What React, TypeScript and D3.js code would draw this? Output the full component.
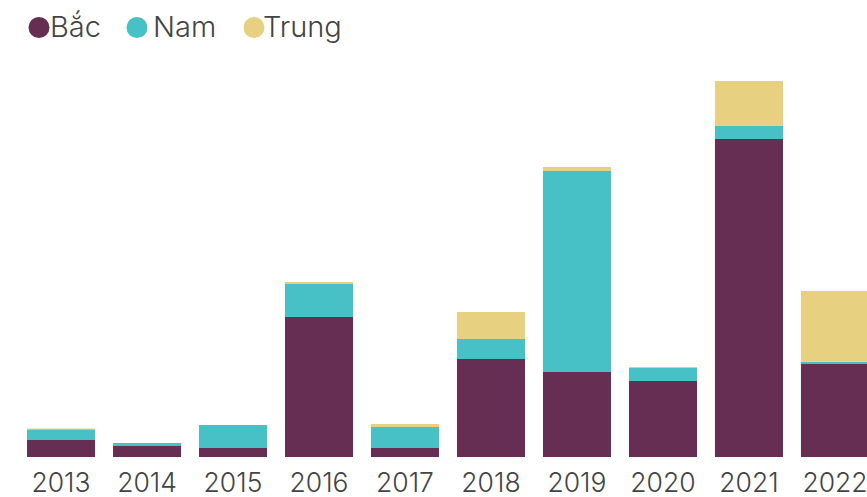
import React from 'react';
import * as d3 from 'd3';

const years = ['2013', '2014', '2015', '2016', '2017', '2018', '2019', '2020', '2021', '2022'];
const bac = [17, 11, 9, 140, 9, 98, 85, 76, 318, 93];
const nam = [10.7, 3, 23, 33, 21, 20, 201, 13, 13, 2.3];
const trung = [0.8, 0, 0, 2, 3, 27, 4, 1, 45, 70.7];

const seriesNames = ['Bắc', 'Nam', 'Trung'];
const colors = ['#662E53', '#47C1C6', '#E8D081'];

const width = 867;
const height = 497;

export default function App() {
  const rows = years.map((y, i) => ({ year: y, Bắc: bac[i], Nam: nam[i], Trung: trung[i] }));
  const stacked = d3.stack<any>().keys(seriesNames)(rows);

  const x = d3.scaleBand()
    .domain(years)
    .range([18, 878])
    .paddingInner(0.209)
    .paddingOuter(0.105);

  const y = d3.scaleLinear()
    .domain([0, 387])
    .range([457, 70]);

  // legend dot centres and label starts
  const dotX = [39, 137, 254];
  const labelX = [50, 153, 263];
  const font = 'Inter, Roboto, sans-serif';

  return (
    <svg width={width} height={height} style={{ position: 'absolute', left: 0, top: 0 }}>
      {stacked.map((layer, li) => (
        <g key={layer.key} fill={colors[li]}>
          {layer.map((d, i) => (
            <rect
              key={years[i]}
              x={x(years[i])}
              y={y(d[1])}
              width={x.bandwidth()}
              height={Math.max(0, y(d[0]) - y(d[1]))}
            />
          ))}
        </g>
      ))}
      <g>
        {years.map((yr) => (
          <text
            key={yr}
            x={(x(yr) ?? 0) + x.bandwidth() / 2}
            y={492}
            textAnchor="middle"
            fontFamily={font}
            fontWeight={300}
            fontSize={26.5}
            fill="#444"
          >
            {yr}
          </text>
        ))}
      </g>
      <g>
        {seriesNames.map((name, i) => (
          <g key={name}>
            <circle cx={dotX[i]} cy={27.5} r={10.5} fill={colors[i]} />
            <text x={labelX[i]} y={37} fontFamily={font} fontWeight={300} fontSize={29} fill="#444">
              {name}
            </text>
          </g>
        ))}
      </g>
    </svg>
  );
}
